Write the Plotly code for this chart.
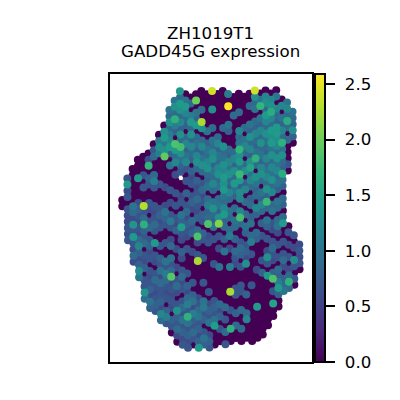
import numpy as np
import plotly.graph_objects as go

# spot grid: each column of the hex array, its first row, values going down in steps of 2 rows
spot_columns = list(range(-17, 17))
first_rows = [35, 28, 25, 22, 21, 20, 17, 14, 11, 6, 3, 0, 1, 2, 1, 0, 1,
              0, 1, 0, 1, 2, 1, 2, 1, 0, 1, 0, 1, 0, 3, 4, 7, 50]

expr_by_column = [
    [0, 0],
    [.7, 1.4, .6, .7, 0, .7, .6, .6, .7, .6, .7],
    [0, 0, 0, 0, 0, 0, 1.0, .9, .6, 1.35, .7, 1.4, .7, .6, .9, .6],
    [0, 0, 0, 1.4, 0, 0, 0, .6, .8, .7, .6, .7, .6, .9, 1.2, .8, .6, .8, 1.25, 1.0],
    [0, 0, 0, .7, 0, .7, 0, 0, 2.3, .7, .9, 1.65, .8, .7, .9, 0, .7, .6, .8, 0, .7, .7, 1.3, .9],
    [0, .6, 1.7, 0, .8, .7, 0, 0, .7, .6, 0, .7, .9, 0, .7, .8, .6, .7, 0, .7, .6, .7, .8, .6, 1.0, .8],
    [0, .7, .9, 0, 0, .9, 1.1, .7, 0, 0, .7, .6, .7, .9, .7, 0, 1.4, 0, .7, .6, 0, .7, .9, .7, .6, .7, .8, .7],
    [0, 1.1, 1.3, 1.1, 0, 0, 0, 0, .7, 0, 0, 0, .7, .8, .6, .7, 0, 0, .7, 0, .8, .7, 1.0, .6, .9, .7, .7, .8, .6, 1.2, .9],
    [0, 1.3, 1.4, 1.0, 1.3, 1.95, 0, 0, 0, 0, .6, 0, 0, .6, 1.0, .8, .7, 0, 0, .7, 0, 0, 1.0, .7, 1.1, .9, .7, .6, .7, 0, .8, 1.1, .7],
    [1.0, .9, 1.3, .9, 1.1, 1.2, 1.4, .8, 0, 1.0, 0, 0, 0, .7, 0, .6, 0, .7, 1.05, .7, 0, .6, .9, 0, 1.0, .7, .9, 1.9, .6, .7, .6, .7, .6, 0, .8, .7, 0],
    [1.0, 1.3, .9, 1.65, 1.1, .8, 0, 1.85, 1.4, .9, 1.2, 0, .6, 0, 0, .7, 0, .7, 0, .7, .6, .8, 0, 0, .6, 0, 0, .6, 0, .7, .9, .6, 0, .7, 1.3, .8, .7, .9, .6, 0],
    [1.4, .9, 1.4, 1.3, .9, 1.2, .8, 1.3, .9, 1.8, 1.3, 1.0, .8, .7, None, 0, 0, .6, .7, 0, 1.0, .8, 1.45, .7, .6, 0, .8, .6, 0, .7, .9, .6, .7, 0, .7, .9, .7, 1.0, .7, .8, .6, .7],
    [0, 1.0, 1.4, 1.2, .9, .8, 0, .9, 1.2, .8, 1.0, 1.2, .7, 0, .7, 0, .8, 0, .7, .9, .6, .8, .7, .6, 0, .7, 0, 0, 0, .7, 0, .8, .6, .9, 1.1, .7, 1.65, 1.0, .7, .8, .6, .7],
    [0, .9, 0, 1.1, 1.4, .9, 1.3, .8, 1.2, .9, .8, 0, .8, .6, .7, 0, .7, .8, .6, 0, .9, .7, .8, 0, 0, .6, 0, 0, 0, 0, .7, 0, .8, 1.0, .6, 1.1, .8, .7, .9, .7, 0],
    [0, 2.0, 0, 1.0, .8, 1.4, 0, .9, 1.0, .8, 1.2, 1.3, .9, 0, .8, .6, .7, .9, .7, .6, .8, 0, .9, 1.85, .6, 0, .7, 2.25, 0, 0, 0, 0, 0, .6, .7, .9, 1.0, .7, .8, .6, .8, 1.4],
    [0, 0, 0, .9, 0, 2.25, 1.3, 0, .9, 1.2, .8, 1.0, 1.3, .9, 0, .7, .9, .6, .7, 0, .8, .7, 0, .8, .7, 0, 0, .7, 0, 0, 0, .7, 0, 0, 1.0, 1.05, .7, .8, 0, .7, 1.0, .8],
    [0, 0, 0, 0, 0, 0, 1.0, 0, .8, 1.0, .9, 1.2, 1.3, .9, .8, 1.0, 0, .9, 1.1, .8, .9, 1.85, 0, .6, .7, 0, 0, 0, 0, 0, 0, 0, .7, 0, .6, .8, .7, 1.0, 0, .6, .8, .7],
    [2.4, 0, 0, 1.3, 0, 0, .9, 0, 1.0, .9, 1.2, 1.3, .8, 1.0, .9, 1.2, .9, 0, 1.0, 1.3, .9, .8, 1.0, 0, .7, 0, 0, 0, .7, 0, 0, 0, 0, 0, .7, .8, .7, 1.0, 1.45, 0, 0, 0],
    [0, 0, 0, 0, 0, 0, 0, .9, 1.2, .8, 1.0, .9, 1.2, 1.3, .9, 1.0, 0, .9, 1.0, .8, 1.3, 2.1, 0, .7, 0, .6, 0, 0, 1.0, 0, 0, 0, 0, 0, .9, .6, .8, 0, .7, 0, 0],
    [0, 0, 0, 0, 0, 0, .9, 0, 0, 1.3, .9, 1.0, 1.3, 1.2, 1.4, 1.3, 1.4, 1.0, .9, 1.2, 1.4, .8, .9, 0, .8, 0, 1.0, 0, 0, 0, 0, 0, 0, 0, 0, .9, 0, .7, 0, .9, 0, .7],
    [1.1, 0, 2.59, 0, 0, 1.0, .8, 0, 0, .9, .8, 1.2, 1.0, 1.3, .9, .8, 1.2, .9, 0, 1.0, .9, 0, .9, 1.1, 0, .6, 0, 0, 1.1, 0, 0, 0, 2.25, 0, 0, .7, 0, 0, 1.65, 0, 0],
    [0, 0, 0, .9, 0, 0, 0, 0, 0, .9, 1.2, .8, 1.3, .9, 1.4, 1.0, .8, 0, .9, 0, 1.0, .9, 0, .8, 0, .9, .7, .6, 0, 0, 0, .7, .7, 0, 0, .8, 0, .9, 0, 0],
    [0, 0, 0, .9, 0, 0, 1.2, .9, 1.0, 1.7, 1.3, 1.4, 1.0, 1.75, 1.4, .8, 1.25, 1.2, 0, 1.2, 1.8, .9, 0, 0, .7, .9, .8, 0, .7, 0, 0, .7, .7, 0, 0, .9, 0, 0, .9, 0, 0],
    [0, 0, 0, 0, 0, .9, 0, 1.0, 1.2, .9, 0, .9, 1.3, 0, .8, 1.2, 0, .9, 0, .9, 0, 1.0, .8, 0, .7, .8, .6, 1.3, 0, 0, 0, 0, .8, 0, 0, .9, 1.2, 0, 0, 0],
    [0, 0, .9, 0, 0, 1.0, .8, 1.3, .9, 1.2, .8, 1.3, 1.5, 1.0, 1.2, .9, 0, .8, .9, 0, .8, 1.0, 0, .9, 1.1, 0, .7, 0, 0, 0, 0, .7, 0, 0, 0, 0, 0, 0, 0, 0, 0],
    [2.4, 1.3, .9, 1.0, 0, .9, .8, 1.2, .9, .8, 1.0, 1.65, .9, 0, 1.3, 1.0, .8, .9, 0, 1.2, .8, 0, 0, .9, .8, 0, 0, 0, 0, .6, 0, 0, 0, 0, 0, 1.4, 0, 0, 0, 0, 0],
    [0, 1.0, 1.7, 0, 1.0, .8, 1.2, .9, 1.3, .9, 1.0, .8, 1.2, 1.3, .9, 0, 1.0, .8, 1.2, .9, 0, .8, 0, .7, 0, 0, 0, .7, 0, .8, 0, 0, 0, 0, 0, 0, 0, 0, 0, 0],
    [0, 1.2, 1.3, .9, 1.4, 1.2, .9, 1.3, 1.0, .9, .8, 1.2, .9, 1.0, 1.2, .9, 1.3, .8, 1.75, .9, 0, 1.0, .8, 0, .7, 0, .6, 1.3, .7, 0, 1.4, 0, 0, 0, 0, 0, 0, 0, 0],
    [0, 1.2, 1.3, 1.6, 1.2, .9, 1.4, 1.3, 1.4, 1.0, 1.3, .9, 1.2, 1.0, 1.3, .9, 1.2, 0, .9, 1.0, 0, .7, .6, 0, .7, .9, .7, .6, 0, .8, 1.85, 0, .7, 0, 1.5, 0, 0],
    [0, 1.0, 0, 1.2, .9, .8, 1.4, 1.4, 1.3, 1.2, .9, 1.3, 1.0, 1.2, .9, 1.0, .8, 0, 1.0, .9, 0, .9, 1.0, .6, 0, .7, 0, .7, 0, .9, .8, 1.1, 1.4, .8, 0, 0],
    [0, 1.2, 0, 1.0, .8, 1.2, .9, 1.65, 1.0, 1.3, .9, .8, 1.6, 1.0, .8, 0, .9, .8, 0, .9, 1.4, 0, 0, .7, 0, .7, .9, .6, 0, .8, .9, 1.0],
    [1.0, 1.2, .9, 1.6, .9, 0, .9, 0, 0, 0, .7, 0, None, None, None, None, None, None, None, None, 0, .7, 0, .6, 0, .7, 0, .6, .9, 1.65, .9],
    [1.0, .9, .8, 1.3, .8, 0, None, None, None, None, None, None, None, None, None, None, None, None, None, None, .7, 0, .6, 0, 1.25, .7, 0, .7, 0],
    [.6, .7, .6, .7, 0],
]

tick_vals = [0, 0.5, 1, 1.5, 2, 2.5]
# leading spaces keep the labels as far from the ticks as in the picture
tick_text = ["\u00a0\u200a" + t for t in ["0.0", "0.5", "1.0", "1.5", "2.0", "2.5"]]

x_vals, y_vals, expr_vals = [], [], []
for col, start, values in zip(spot_columns, first_rows, expr_by_column):
    for i, v in enumerate(values):
        if v is None:
            continue
        row = start + 2 * i
        # the slide sits slightly rotated in the image
        x_vals.append(col + 0.0062 * row)
        y_vals.append(row - 0.0185 * col)
        expr_vals.append(v)

# highest values drawn last, on top
order = np.argsort(expr_vals, kind="stable")
x_vals = np.array(x_vals)[order]
y_vals = np.array(y_vals)[order]
expr_vals = np.array(expr_vals)[order]

fig = go.Figure(go.Scatter(
    x=x_vals, y=y_vals, mode="markers",
    marker=dict(
        size=8, color=expr_vals, colorscale="Viridis", cmin=0, cmax=2.59,
        line=dict(width=0),
        colorbar=dict(
            x=307 / 400, xanchor="left", xpad=0, ypad=0,
            y=46 / 400, yanchor="bottom", len=288 / 400, lenmode="fraction",
            thickness=10, thicknessmode="pixels",
            outlinewidth=2, outlinecolor="black",
            tickvals=tick_vals, ticktext=tick_text,
            ticks="outside", ticklen=9, tickwidth=2, tickcolor="black",
            tickfont=dict(family="DejaVu Sans", size=16.67, color="black"),
        ),
    ),
))

title_font = dict(family="DejaVu Sans", size=16.67, color="black")

# the page has an 8px body margin, so everything sits 8px up and left of the target
fig.update_layout(
    width=400, height=400, autosize=False,
    margin=dict(l=0, r=0, t=0, b=0),
    plot_bgcolor="white", paper_bgcolor="white",
    showlegend=False,
    annotations=[
        dict(text="ZH1019T1", x=203 / 400, y=0.935, xref="paper", yref="paper",
             xanchor="center", yanchor="middle", showarrow=False, font=title_font),
        dict(text="GADD45G expression", x=203 / 400, y=0.89, xref="paper", yref="paper",
             xanchor="center", yanchor="middle", showarrow=False, font=title_font),
    ],
    xaxis=dict(domain=[102 / 400, 304 / 400], range=[-19.07, 18.69], showgrid=False, zeroline=False,
               showticklabels=False, ticks="", showline=True, mirror=True, linecolor="black", linewidth=2),
    yaxis=dict(domain=[46 / 400, 334 / 400], range=[87.7, -5.5], showgrid=False, zeroline=False,
               showticklabels=False, ticks="", showline=True, mirror=True, linecolor="black", linewidth=2),
)

fig.write_html("out.html")
